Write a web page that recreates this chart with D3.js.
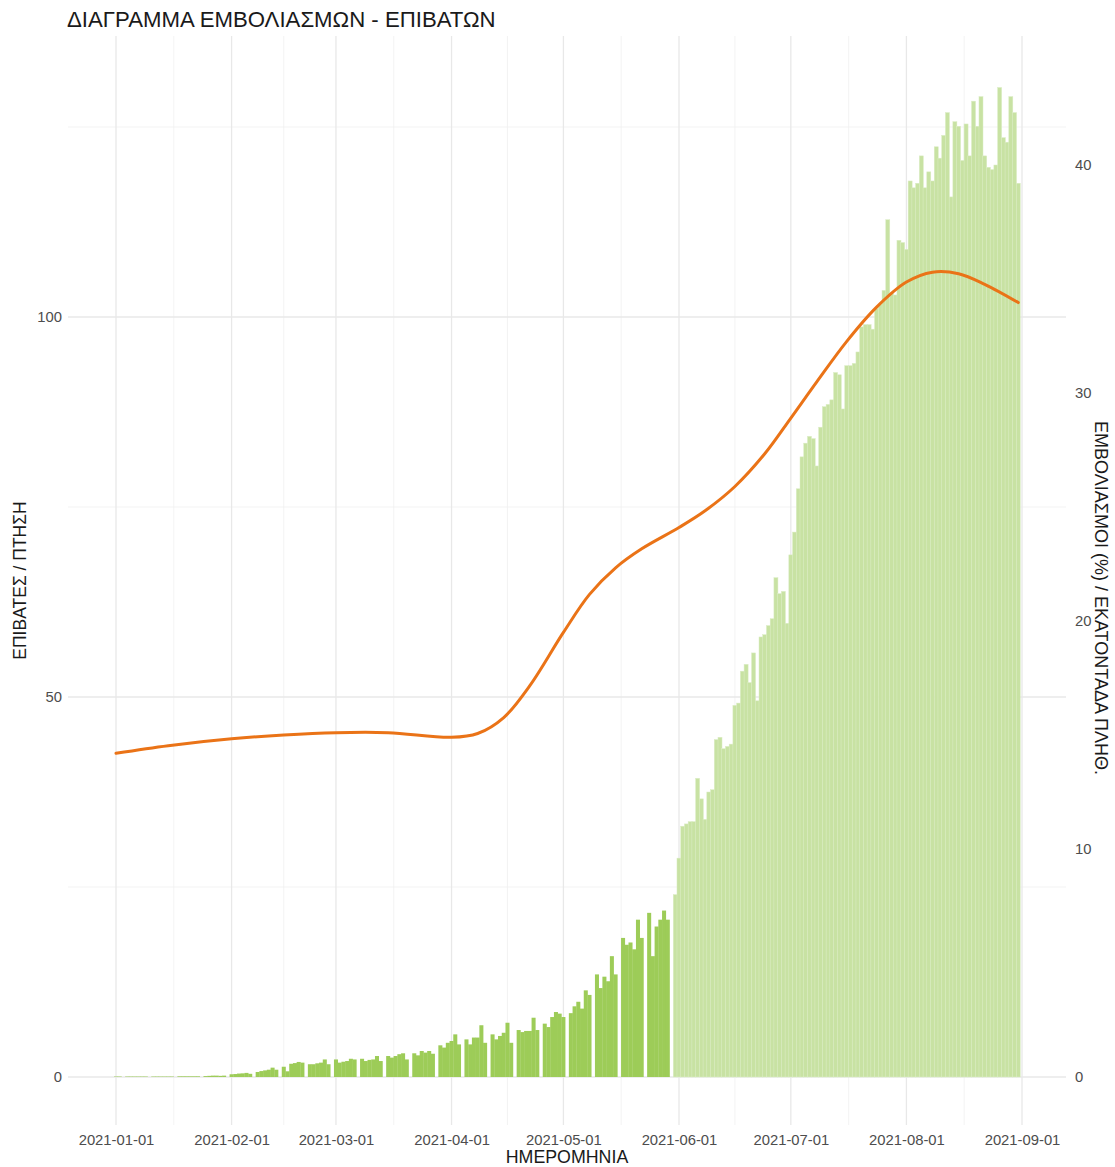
<!DOCTYPE html>
<html><head><meta charset="utf-8">
<script src="https://cdn.jsdelivr.net/npm/d3@7"></script>
<style>
body{margin:0;background:#fff}
text{font-family:"Liberation Sans",Arial,Helvetica,sans-serif}
</style>
</head><body>
<svg id="chart" width="1115" height="1167"></svg>
<script>
// ---------- DATA ----------
const chartTitle = "ΔΙΑΓΡΑΜΜΑ ΕΜΒΟΛΙΑΣΜΩΝ - ΕΠΙΒΑΤΩΝ";
const xTitle = "ΗΜΕΡΟΜΗΝΙΑ";
const leftTitle = "ΕΠΙΒΑΤΕΣ / ΠΤΗΣΗ";
const rightTitle = "ΕΜΒΟΛΙΑΣΜΟΙ (%) / ΕΚΑΤΟΝΤΑΔΑ ΠΛΗΘ.";

const firstDay = "2021-01-01";
const lightFromDay = "2021-05-31";
// daily bars (right axis, % per hundred), from 2021-01-01 to 2021-08-31
const barValues = [
  0.02,0.02,
  0,0.02,0.02,0.02,0.02,0.02,0.02,
  0,0.02,0.02,0.02,0.02,0.02,0.02,
  0,0.03,0.03,0.03,0.03,0.03,0.03,
  0,0.04,0.05,0.06,0.06,0.05,0.06,
  0,0.12,0.13,0.15,0.16,0.18,0.14,
  0,0.22,0.26,0.29,0.32,0.41,0.32,
  0,0.45,0.25,0.58,0.61,0.66,0.63,
  0,0.56,0.56,0.60,0.63,0.77,0.56,
  0,0.77,0.63,0.67,0.70,0.80,0.77,
  0,0.80,0.70,0.75,0.77,0.92,0.70,
  0,0.92,0.85,0.92,1.00,1.04,0.77,
  0,1.04,0.95,1.14,1.07,1.14,1.02,
  0,1.39,1.29,1.50,1.58,1.87,1.43,
  0,1.65,1.43,1.73,1.73,2.27,1.50,
  0,1.87,1.65,1.80,1.94,2.38,1.50,
  0,2.06,1.97,2.02,2.02,2.60,2.06,
  0,2.34,2.19,2.63,2.85,2.78,2.63,
  0,2.80,3.10,3.30,3.00,3.80,3.60,
  0,4.50,3.90,4.40,4.20,5.30,4.50,
  0,6.10,5.80,5.90,5.60,6.90,6.10,
  0,7.20,5.30,6.60,6.90,7.30,6.90,
  0,8.0,9.6,11.0,11.1,11.2,11.2,
  13.1,12.2,11.3,12.5,12.6,14.8,14.9,
  14.4,14.5,14.6,16.3,16.4,17.8,18.1,
  17.3,18.6,16.5,19.3,19.4,19.8,20.1,
  21.9,21.2,21.3,19.9,22.9,23.9,25.8,
  27.2,27.8,28.1,28.0,26.8,28.5,29.4,
  29.5,29.7,30.9,30.8,29.3,31.2,31.2,
  31.3,31.8,32.9,33.0,33.0,32.8,33.7,
  33.9,34.5,37.6,34.4,34.3,36.7,36.6,
  36.3,39.3,39.0,39.2,40.4,39.0,39.7,
  39.3,40.8,40.3,41.3,42.3,38.6,41.9,
  41.7,40.2,41.8,40.4,42.8,41.7,43.0,
  40.4,39.9,39.8,40.0,43.4,41.2,41.0,
  43.0,42.3,39.2
];
// smoothed passengers-per-flight line (left axis)
const lineDates = ["2021-01-01","2021-01-15","2021-02-01","2021-02-15","2021-03-01","2021-03-15",
  "2021-04-01","2021-04-08","2021-04-15","2021-04-22","2021-05-01","2021-05-08","2021-05-15",
  "2021-05-22","2021-06-01","2021-06-08","2021-06-16","2021-06-24","2021-07-01","2021-07-08",
  "2021-07-16","2021-07-24","2021-08-01","2021-08-08","2021-08-15","2021-08-22","2021-08-31"];
const lineValues = [42.6,43.6,44.5,45.0,45.3,45.3,
  44.7,45.2,47.3,51.5,58.5,63.5,67.0,
  69.5,72.3,74.5,77.7,82.0,86.7,91.5,
  96.8,101.3,104.6,105.9,105.7,104.3,101.9];

const xTickLabels = ["2021-01-01","2021-02-01","2021-03-01","2021-04-01","2021-05-01",
  "2021-06-01","2021-07-01","2021-08-01","2021-09-01"];
const leftTicks = [0,50,100];
const leftMinor = [25,75,125];
const rightTicks = [0,10,20,30,40];

// ---------- LAYOUT ----------
const panel = {left:68, right:1066, top:36, bottom:1125};
const parse = d3.utcParse("%Y-%m-%d");
const svg = d3.select("#chart");

const x = d3.scaleUtc()
  .domain([parse(xTickLabels[0]), parse(xTickLabels[xTickLabels.length-1])])
  .range([116, 1022]);
const yL = d3.scaleLinear().domain([0,100]).range([1077,317]);
const yR = d3.scaleLinear().domain([0,100/3]).range([1077,317]);

// grid
const majorDates = xTickLabels.map(parse);
const minorDates = d3.pairs(majorDates).map(([a,b]) => new Date((+a + +b)/2));
const grid = svg.append("g");
grid.selectAll(".vmin").data(minorDates).join("line")
  .attr("x1", d=>x(d)).attr("x2", d=>x(d)).attr("y1", panel.top).attr("y2", panel.bottom)
  .attr("stroke","#f0f0f0").attr("stroke-width",0.8);
grid.selectAll(".hmin").data(leftMinor).join("line")
  .attr("x1", panel.left).attr("x2", panel.right).attr("y1", d=>yL(d)).attr("y2", d=>yL(d))
  .attr("stroke","#f0f0f0").attr("stroke-width",0.8);
grid.selectAll(".vmaj").data(majorDates).join("line")
  .attr("x1", d=>x(d)).attr("x2", d=>x(d)).attr("y1", panel.top).attr("y2", panel.bottom)
  .attr("stroke","#e8e8e8").attr("stroke-width",1.3);
grid.selectAll(".hmaj").data(leftTicks).join("line")
  .attr("x1", panel.left).attr("x2", panel.right).attr("y1", d=>yL(d)).attr("y2", d=>yL(d))
  .attr("stroke","#e8e8e8").attr("stroke-width",1.3);

// bars
const start = parse(firstDay);
const lightFrom = parse(lightFromDay);
const bars = barValues.map((v,i) => ({date: d3.utcDay.offset(start, i), v}));
const dayW = x(d3.utcDay.offset(start,1)) - x(start);
const bw = dayW + 0.3;
const barG = svg.append("g");
barG.selectAll("rect").data(bars.filter(d => d.v > 0)).join("rect")
  .attr("x", d => x(d.date) - bw/2)
  .attr("width", bw)
  .attr("y", d => yR(d.v))
  .attr("height", d => yR(0) - yR(d.v))
  .attr("fill", d => d.date >= lightFrom ? "#c8e2a3" : "#9dcc58")
  .attr("stroke", d => d.date >= lightFrom ? "#dcedc6" : "none")
  .attr("stroke-width", 0.5);

// line
const linePts = lineDates.map((d,i) => ({date: parse(d), v: lineValues[i]}));
svg.append("path").datum(linePts)
  .attr("d", d3.line().x(d=>x(d.date)).y(d=>yL(d.v)).curve(d3.curveCatmullRom.alpha(0.5)))
  .attr("fill","none").attr("stroke","#ea7317").attr("stroke-width",3)
  .attr("stroke-linecap","round");

// axes
const axColor = "#4d4d4d";
const xAxis = svg.append("g").attr("transform",`translate(0,${panel.bottom})`)
  .call(d3.axisBottom(x).tickValues(majorDates).tickFormat(d3.utcFormat("%Y-%m-%d")).tickSize(0).tickPadding(9));
const lAxis = svg.append("g").attr("transform",`translate(${panel.left},0)`)
  .call(d3.axisLeft(yL).tickValues(leftTicks).tickSize(0).tickPadding(6));
const rAxis = svg.append("g").attr("transform",`translate(${panel.right},0)`)
  .call(d3.axisRight(yR).tickValues(rightTicks).tickSize(0).tickPadding(9));
[xAxis,lAxis,rAxis].forEach(g => {
  g.select(".domain").remove();
  g.selectAll("text").attr("fill",axColor).style("font-size","14.8px")
   .style("font-family",'"Liberation Sans",Arial,sans-serif');
});

// titles
svg.append("text").attr("x",67).attr("y",27).attr("fill","#1a1a1a")
  .style("font-size","22.2px").text(chartTitle);
svg.append("text").attr("x",(panel.left+panel.right)/2).attr("y",1163)
  .attr("text-anchor","middle").attr("fill","#1a1a1a").style("font-size","17.8px").text(xTitle);
svg.append("text").attr("transform",`translate(26,${(panel.top+panel.bottom)/2}) rotate(-90)`)
  .attr("text-anchor","middle").attr("fill","#1a1a1a").style("font-size","17.5px").text(leftTitle);
svg.append("text").attr("transform",`translate(1095,598) rotate(90)`)
  .attr("text-anchor","middle").attr("fill","#1a1a1a").style("font-size","18px").text(rightTitle);
</script>
</body></html>
